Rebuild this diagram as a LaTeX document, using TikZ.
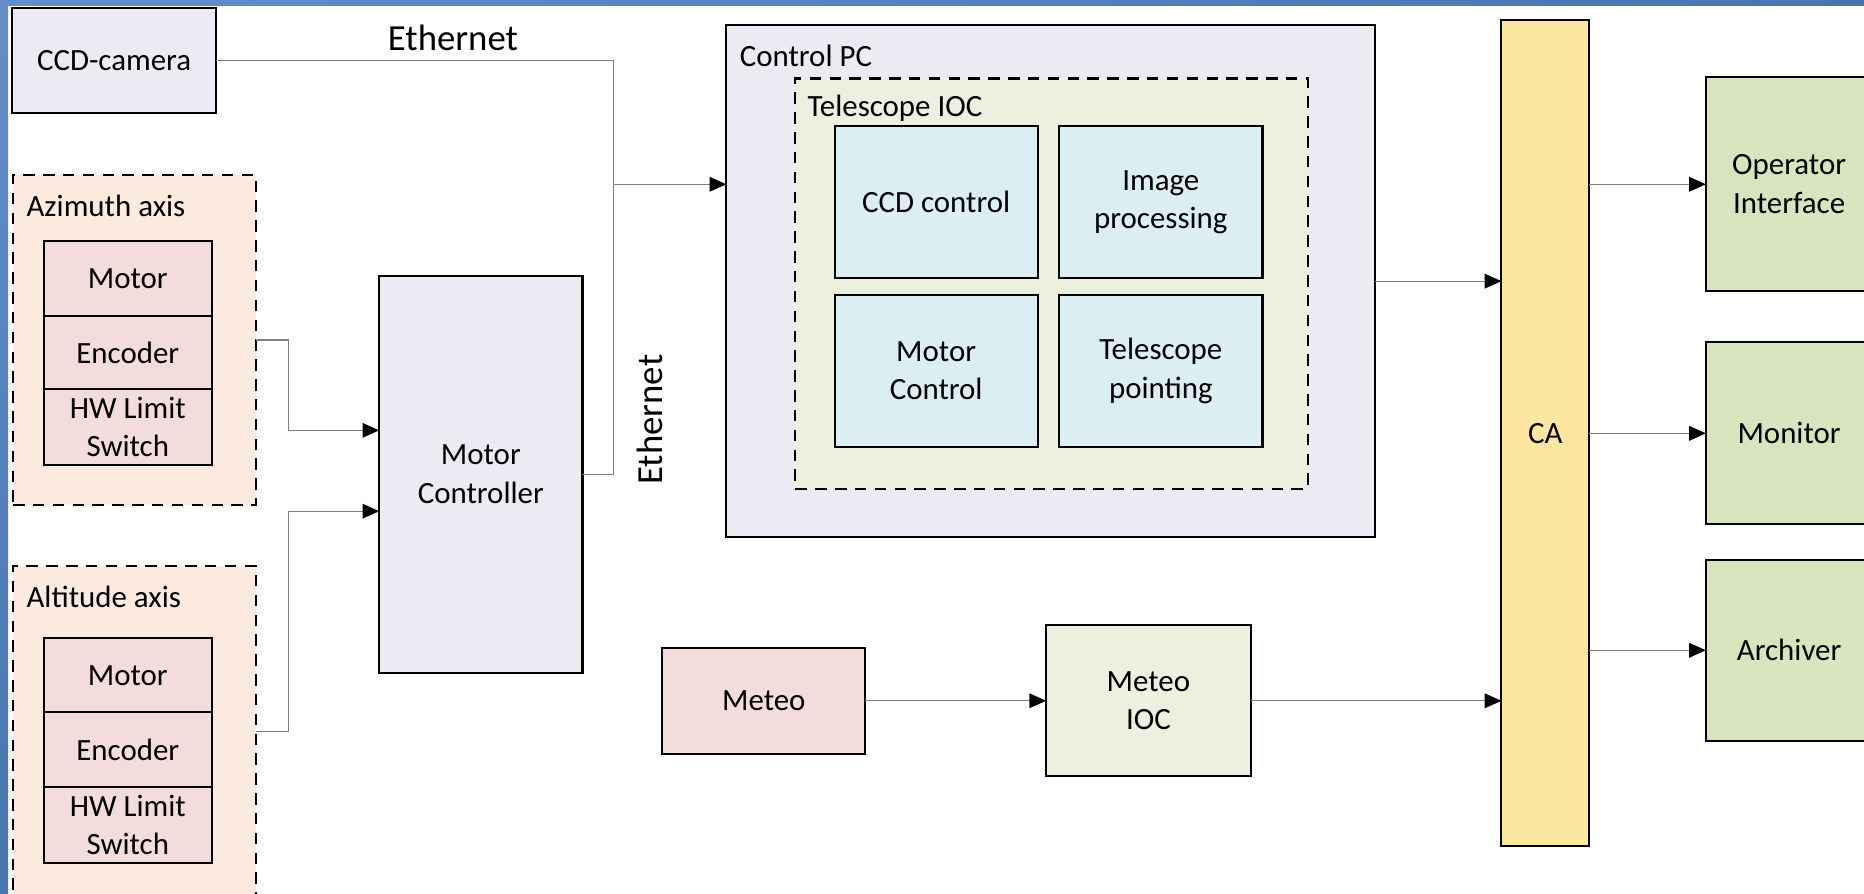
\documentclass[tikz,border=0pt]{standalone}
\usepackage{fontspec}
\setmainfont{Carlito}
\usetikzlibrary{arrows.meta}

\definecolor{lavender}{RGB}{236,234,242}
\definecolor{peach}{RGB}{252,235,222}
\definecolor{rose}{RGB}{242,221,220}
\definecolor{pale green}{RGB}{235,241,222}
\definecolor{pale blue}{RGB}{219,238,243}
\definecolor{sand}{RGB}{252,230,160}
\definecolor{sage}{RGB}{216,228,190}
\definecolor{wire}{RGB}{128,128,128}
\definecolor{frame light}{RGB}{98,143,200}
\definecolor{frame dark}{RGB}{72,117,172}

\tikzset{
  txt/.style={font=\fontsize{14.8}{18.4}\selectfont},
  block/.style={draw=black, line width=1pt, inner sep=0pt, outer sep=0pt,
                align=center, txt},
  group/.style={block, dashed, dash pattern=on 5.5pt off 4pt},
  caption/.style={anchor=west, inner sep=0pt, txt},
  conn/.style={draw=wire, line width=0.55pt,
               -{Triangle[length=8pt, width=7pt, color=black, fill=black]}},
  wire only/.style={draw=wire, line width=0.55pt},
}

\begin{document}
\begin{tikzpicture}[x=0.02cm, y=-0.02cm]
  \useasboundingbox (0,0) rectangle (1568,752);
  \clip (0,0) rectangle (1568,752);
  \fill[white] (0,0) rectangle (1568,752);

  % window frame along the top and left edges
  \shade[left color=frame light, right color=frame dark] (0,0) rectangle (1568,4.3);
  \shade[top color=frame light, bottom color=frame dark] (0,0) rectangle (6.8,752);

  % camera
  \node[block, fill=lavender, minimum width=3.44cm, minimum height=1.76cm] (cam) at (96,51) {CCD-camera};

  % azimuth axis group
  \node[group, fill=peach, minimum width=4.08cm, minimum height=5.56cm] (az) at (113,286) {};
  \node[caption] (azlbl) at (22,173) {Azimuth axis};
  \node[block, fill=rose, minimum width=2.82cm, minimum height=1.26cm] (azmot) at (107.5,234.5) {Motor};
  \node[block, fill=rose, minimum width=2.82cm, minimum height=1.22cm] (azenc) at (107.5,296.5) {Encoder};
  \node[block, fill=rose, minimum width=2.82cm, minimum height=1.28cm] (azlim) at (107.5,359) {HW Limit\\Switch};

  % altitude axis group
  \node[group, fill=peach, minimum width=4.08cm, minimum height=6.28cm] (alt) at (113,633) {};
  \node[caption] (altlbl) at (22,502) {Altitude axis};
  \node[block, fill=rose, minimum width=2.82cm, minimum height=1.24cm] (altmot) at (107.5,568) {Motor};
  \node[block, fill=rose, minimum width=2.82cm, minimum height=1.26cm] (altenc) at (107.5,630.5) {Encoder};
  \node[block, fill=rose, minimum width=2.82cm, minimum height=1.28cm] (altlim) at (107.5,694) {HW Limit\\Switch};

  % motor controller
  \node[block, fill=lavender, minimum width=3.42cm, minimum height=6.68cm] (mc) at (404.5,399) {Motor\\Controller};

  % control PC with the telescope IOC
  \node[block, fill=lavender, minimum width=10.92cm, minimum height=8.62cm] (pc) at (884,236.5) {};
  \node[caption] (pclbl) at (622,47) {Control PC};
  \node[group, fill=pale green, minimum width=8.62cm, minimum height=6.9cm] (ioc) at (884.5,238.5) {};
  \node[caption] (ioclbl) at (679,91) {Telescope IOC};
  \node[block, fill=pale blue, minimum width=3.42cm, minimum height=2.56cm] (ccd) at (787.5,170) {CCD control};
  \node[block, fill=pale blue, minimum width=3.42cm, minimum height=2.56cm] (img) at (976.5,170) {Image\\processing};
  \node[block, fill=pale blue, minimum width=3.42cm, minimum height=2.56cm] (mot) at (787.5,312) {Motor\\Control};
  \node[block, fill=pale blue, minimum width=3.42cm, minimum height=2.56cm] (tpt) at (976.5,312) {Telescope\\pointing};

  % weather station
  \node[block, fill=rose, minimum width=3.42cm, minimum height=1.78cm] (meteo) at (642.5,589.5) {Meteo};
  \node[block, fill=pale green, minimum width=3.44cm, minimum height=2.54cm] (mioc) at (966,589.5) {Meteo\\IOC};

  % channel access bus
  \node[block, fill=sand, minimum width=1.48cm, minimum height=13.9cm] (ca) at (1300,364.5) {CA};

  % clients
  \node[block, fill=sage, minimum width=2.8cm, minimum height=3.6cm] (op) at (1505,155) {Operator\\Interface};
  \node[block, fill=sage, minimum width=2.8cm, minimum height=3.06cm] (mon) at (1505,364.5) {Monitor};
  \node[block, fill=sage, minimum width=2.8cm, minimum height=3.04cm] (arch) at (1505,547) {Archiver};

  % network labels
  \node[font=\fontsize{17.6}{20}\selectfont, inner sep=0pt] (eth1) at (381,32) {Ethernet};
  \node[font=\fontsize{17.6}{20}\selectfont, inner sep=0pt, rotate=90] (eth2) at (547,353) {Ethernet};

  % connectors
  \coordinate (jn) at (516,155);
  \draw[wire only] (cam.east) -| (jn);
  \draw[conn] (mc.east) -| (jn) -- (pc.west |- jn);

  \draw[conn] (az.east) -- ++(28,0) |- ([yshift=0.74cm]mc.west);
  \draw[conn] ([yshift=0.36cm]alt.east) -- ++(28,0) |- ([yshift=-0.62cm]mc.west);

  \draw[conn] (pc.east) -- (ca.west |- pc.east);
  \draw[conn] (ca.east |- op.west) -- (op.west);
  \draw[conn] (ca.east |- mon.west) -- (mon.west);
  \draw[conn] (ca.east |- arch.west) -- (arch.west);

  \draw[conn] (meteo.east) -- (mioc.west);
  \draw[conn] (mioc.east) -- (ca.west |- mioc.east);
\end{tikzpicture}
\end{document}
